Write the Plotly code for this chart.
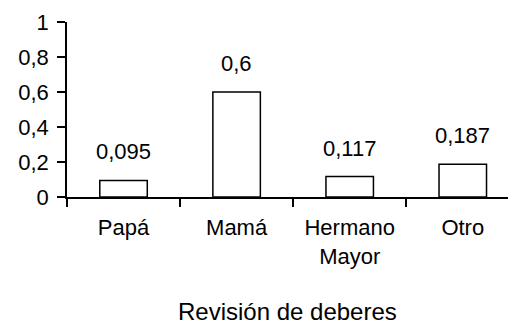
import plotly.graph_objects as go

# Revisión de deberes: share of who checks homework
categories = ["Papá", "Mamá", "Hermano<br>Mayor", "Otro"]
values = [0.095, 0.6, 0.117, 0.187]
y_ticks = [0, 0.2, 0.4, 0.6, 0.8, 1]

FONT = dict(family="Liberation Sans, Arial, sans-serif", size=22, color="black")
TITLE_FONT = dict(FONT, size=24)


def fmt(v):
    return f"{v:g}".replace(".", ",")


fig = go.Figure(
    go.Bar(
        x=categories,
        y=values,
        marker=dict(color="white", line=dict(color="black", width=1.5)),
        hoverinfo="skip",
    )
)

for c, v in zip(categories, values):
    fig.add_annotation(
        x=c, y=v, text=fmt(v), showarrow=False,
        yanchor="bottom", yshift=14, font=FONT,
    )

fig.add_annotation(
    text="Revisión de deberes", xref="paper", yref="paper",
    x=0.5, y=-0.652, xanchor="center", yanchor="middle",
    showarrow=False, font=TITLE_FONT,
)

fig.update_layout(
    width=508, height=326,
    margin=dict(l=67, r=0, t=22, b=129),
    paper_bgcolor="white", plot_bgcolor="white",
    font=FONT,
    separators=",.",
    bargap=0.58,
    showlegend=False,
)

fig.update_xaxes(
    range=[-0.5, 3.4],
    tickson="boundaries",
    ticks="outside", ticklen=8, tickwidth=1.5, tickcolor="black",
    showline=True, linecolor="black", linewidth=1.5,
    showgrid=False, zeroline=False,
    tickfont=FONT,
    ticklabelstandoff=10,
)

fig.update_yaxes(
    range=[0, 1],
    tickvals=y_ticks,
    ticktext=[fmt(t) for t in y_ticks],
    ticks="outside", ticklen=8, tickwidth=1.5, tickcolor="black",
    showline=True, linecolor="black", linewidth=1.5,
    showgrid=False, zeroline=False,
    tickfont=FONT,
    ticklabelstandoff=4,
)

fig.write_html("out.html")
